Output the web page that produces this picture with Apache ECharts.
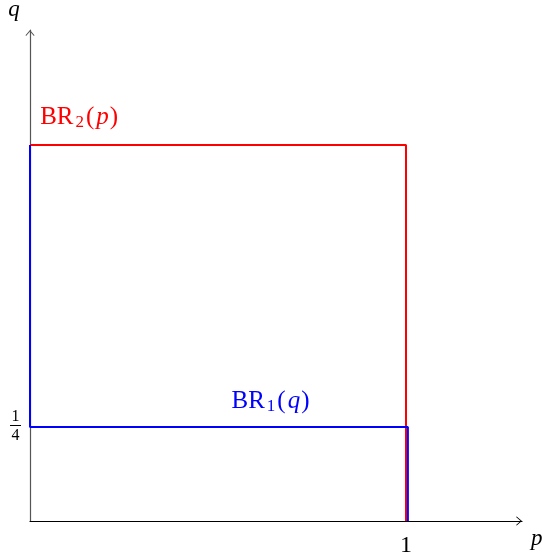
<!DOCTYPE html>
<html>
<head>
<meta charset="utf-8">
<script src="https://cdn.jsdelivr.net/npm/echarts@6/dist/echarts.min.js"></script>
<style>
  html, body { margin: 0; padding: 0; background: #fff; }
  #chart_box { width: 542px; height: 558px; }
</style>
</head>
<body>
<div id="chart_box"></div>
<script>
(function() {

    // best response curves
    var br2Data = [[0, 1], [1, 1], [1, 0]];
    var br1Data = [[0, 1], [0, 0.25], [1.005, 0.25], [1.005, 0]];
    var br2LabelAt = [0.027, 1.072];
    var br1LabelAt = [0.641, 0.317];

    // tick labels
    var xTicks = [1];
    var yTicks = [0.25];

    var serif = '"Liberation Serif", "DejaVu Serif", serif';
    // open chevron arrow head
    var arrowPath = 'path://M0,0 L6,7 L5.2,7.8 L0,1.8 L-5.2,7.8 L-6,7 Z';

    function brLabel(color) {
        return {
            a: { fontFamily: serif, fontSize: 25, color: color, padding: [0, 1, 0, 0] },
            s: { fontFamily: serif, fontSize: 17, color: color, verticalAlign: 'bottom', padding: [9, 2, 0, 1] },
            i: { fontFamily: serif, fontSize: 25, fontStyle: 'italic', color: color, padding: [0, 1, 0, 1] }
        };
    }

    var myChart = echarts.init(document.getElementById('chart_box'));
    myChart.setOption({
        animation: false,
        grid: {
            left: 30,
            right: 20,
            top: 30,
            bottom: 37,
            containLabel: false,
            outerBoundsMode: 'none'
        },
        xAxis: {
            type: 'value',
            min: 0,
            max: 1.3085,
            name: 'p',
            nameLocation: 'end',
            nameGap: 9,
            nameTextStyle: {
                fontFamily: serif,
                fontStyle: 'italic',
                fontSize: 23,
                color: '#000',
                verticalAlign: 'top',
                padding: [6, 0, 0, 0]
            },
            splitLine: { show: false },
            axisTick: { show: false },
            axisLine: {
                show: true,
                symbol: ['none', arrowPath],
                symbolSize: [9, 6],
                symbolOffset: [0, -3],
                lineStyle: { color: '#000', width: 1.2 }
            },
            axisLabel: {
                customValues: xTicks,
                fontFamily: serif,
                fontSize: 24,
                color: '#000',
                margin: 13
            }
        },
        yAxis: {
            type: 'value',
            min: 0,
            max: 1.3058,
            name: 'q',
            nameLocation: 'end',
            nameGap: 9,
            nameTextStyle: {
                fontFamily: serif,
                fontStyle: 'italic',
                fontSize: 23,
                color: '#000',
                align: 'center',
                padding: [0, 32, 0, 0]
            },
            splitLine: { show: false },
            axisTick: { show: false },
            axisLine: {
                show: true,
                symbol: ['none', arrowPath],
                symbolSize: [9, 6],
                symbolOffset: [0, -3],
                lineStyle: { color: '#555', width: 1.2 }
            },
            axisLabel: {
                customValues: yTicks,
                margin: 9,
                formatter: function() {
                    return '{n|1}\n{bar|}\n{d|4}';
                },
                rich: {
                    n: { fontFamily: serif, fontSize: 16, color: '#000', lineHeight: 14, align: 'center' },
                    bar: { width: 11, height: 1, lineHeight: 4, backgroundColor: '#000', align: 'center' },
                    d: { fontFamily: serif, fontSize: 16, color: '#000', lineHeight: 17, align: 'center' }
                }
            }
        },
        series: [{
            name: 'BR2',
            type: 'line',
            data: br2Data,
            symbol: 'none',
            lineStyle: { color: '#ff0000', width: 2 },
            markPoint: {
                symbol: 'circle',
                symbolSize: 0,
                data: [{ coord: br2LabelAt }],
                label: {
                    show: true,
                    position: 'inside',
                    align: 'left',
                    formatter: '{a|BR}{s|2}{a|(}{i|p}{a|)}',
                    rich: brLabel('#ff0000')
                }
            }
        }, {
            name: 'BR1',
            type: 'line',
            data: br1Data,
            symbol: 'none',
            lineStyle: { color: '#0000ff', width: 2 },
            markPoint: {
                symbol: 'circle',
                symbolSize: 0,
                data: [{ coord: br1LabelAt }],
                label: {
                    show: true,
                    position: 'inside',
                    align: 'center',
                    formatter: '{a|BR}{s|1}{a|(}{i|q}{a|)}',
                    rich: brLabel('#0000ff')
                }
            }
        }]
    });
})();
</script>
</body>
</html>
